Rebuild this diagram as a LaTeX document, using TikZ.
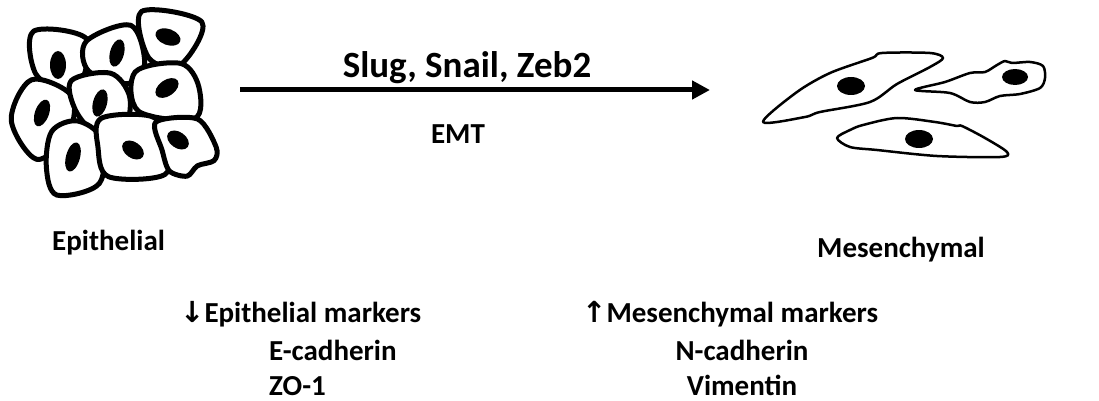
\documentclass[tikz,border=0pt]{standalone}
\usepackage{fontspec}
\setmainfont{Carlito}
\newfontfamily\arrowfont{DejaVu Sans}
\usetikzlibrary{arrows.meta}
\begin{document}
\begin{tikzpicture}[x=1pt,y=-1pt,
  lbl/.style={font=\bfseries\fontsize{29}{31}\selectfont, inner sep=0pt},
  biglbl/.style={font=\bfseries\fontsize{37}{40}\selectfont, inner sep=0pt},
  epicell/.style={draw=black, fill=white, line width=5pt, line join=round},
  nucleus/.style={fill=black},
  mescell/.style={draw=black, fill=white, line width=2.5pt, line join=round},
  flow/.style={line width=5pt, -{Triangle[length=18pt,width=18pt]}},
]
\useasboundingbox (0,0) rectangle (1099,401);

% ---- epithelial cluster ----
\draw[epicell, scale around={1.06:(60,62)}] plot[smooth cycle, tension=0.55] coordinates
  {(35,33) (85,40) (80,83) (67,92) (37,73)};
\draw[epicell, scale around={1.06:(116,55)}] plot[smooth cycle, tension=0.55] coordinates
  {(88,42) (130,27) (143,63) (127,82) (90,70)};
\draw[epicell, scale around={1.06:(168,38)}] plot[smooth cycle, tension=0.55] coordinates
  {(143,13) (200,23) (180,63) (150,57)};
\draw[epicell, scale around={1.06:(42,118)}] plot[smooth cycle, tension=0.55] coordinates
  {(32,82) (70,97) (67,133) (37,157) (13,120)};
\draw[epicell, scale around={1.06:(101,105)}] plot[smooth cycle, tension=0.55] coordinates
  {(73,82) (110,75) (128,97) (123,127) (97,132) (77,110)};
\draw[epicell, scale around={1.06:(167,91)}] plot[smooth cycle, tension=0.55] coordinates
  {(137,73) (180,65) (197,87) (193,117) (140,110)};
\draw[epicell, scale around={1.06:(75,158)}] plot[smooth cycle, tension=0.55] coordinates
  {(53,133) (77,123) (100,140) (98,182) (58,193) (48,167)};
\draw[epicell, scale around={1.06:(134,147)}] plot[smooth cycle, tension=0.55] coordinates
  {(103,120) (150,118) (167,140) (163,173) (110,175) (100,147)};
\draw[epicell, scale around={1.04:(186,146)}] plot[smooth cycle, tension=0.5] coordinates
  {(157,123) (197,120) (215,147) (213,160) (197,165) (187,175) (170,170) (163,150)};

\fill[nucleus] (58,65) ellipse [x radius=8, y radius=14];
\fill[nucleus, rotate around={-15:(117,53)}] (117,53) ellipse [x radius=7, y radius=14];
\fill[nucleus, rotate around={-20:(168,37)}] (168,37) ellipse [x radius=13, y radius=8];
\fill[nucleus, rotate around={-20:(42,113)}] (42,113) ellipse [x radius=7, y radius=14];
\fill[nucleus, rotate around={-15:(100,103)}] (100,103) ellipse [x radius=7, y radius=14];
\fill[nucleus, rotate around={35:(167,88)}] (167,88) ellipse [x radius=13, y radius=8];
\fill[nucleus, rotate around={-15:(73,157)}] (73,157) ellipse [x radius=7, y radius=15];
\fill[nucleus, rotate around={-35:(133,150)}] (133,150) ellipse [x radius=12, y radius=8];
\fill[nucleus, rotate around={-35:(178,140)}] (178,140) ellipse [x radius=12, y radius=8];

% ---- mesenchymal cells ----
\draw[mescell] plot[smooth cycle, tension=0.5] coordinates {
  (763,122) (797,92) (830,73) (872,58) (882,53) (930,53) (943,58)
  (930,67) (897,84) (870,102) (820,112) (805,117)};
\fill[nucleus] (851,86) ellipse [x radius=14, y radius=9];

\draw[mescell] plot[smooth cycle, tension=0.5] coordinates {
  (915,90) (945,82) (970,73) (985,72) (997,65) (1005,61) (1012,63)
  (1030,62) (1043,66) (1045,78) (1040,88) (1020,94) (1000,96)
  (985,102) (970,102) (950,93)};
\fill[nucleus] (1015,77) ellipse [x radius=13, y radius=8];

\draw[mescell] plot[smooth cycle, tension=0.5] coordinates {
  (837,138) (850,130) (863,125) (897,118) (935,122) (957,126) (962,126)
  (985,138) (1007,152) (1000,157) (937,156) (877,150) (850,147)};
\fill[nucleus] (919,139) ellipse [x radius=14, y radius=9];

% ---- transition arrow and labels ----
\coordinate (epi) at (240,90);
\coordinate (mes) at (710,90);
\draw[flow] (epi) -- (mes);

\node[biglbl, anchor=base] (factors) at (467,78) {Slug, Snail, Zeb2};
\node[lbl, anchor=base] (emt) at (458,143) {EMT};
\node[lbl, anchor=base west] (epilbl) at (52,250) {Epithelial};
\node[lbl, anchor=base] (meslbl) at (901,257) {Mesenchymal};

\node[lbl, anchor=base west] (epimark) at (180,322) {{\arrowfont ↓}Epithelial markers};
\node[lbl, anchor=base west] (ecad) at (269,360) {E-cadherin};
\node[lbl, anchor=base west] (zo) at (269,395) {ZO-1};

\node[lbl, anchor=base west] (mesmark) at (582,322) {{\arrowfont ↑}Mesenchymal markers};
\node[lbl, anchor=base] (ncad) at (742,360) {N-cadherin};
\node[lbl, anchor=base] (vim) at (742,395) {Vimentin};
\end{tikzpicture}
\end{document}
